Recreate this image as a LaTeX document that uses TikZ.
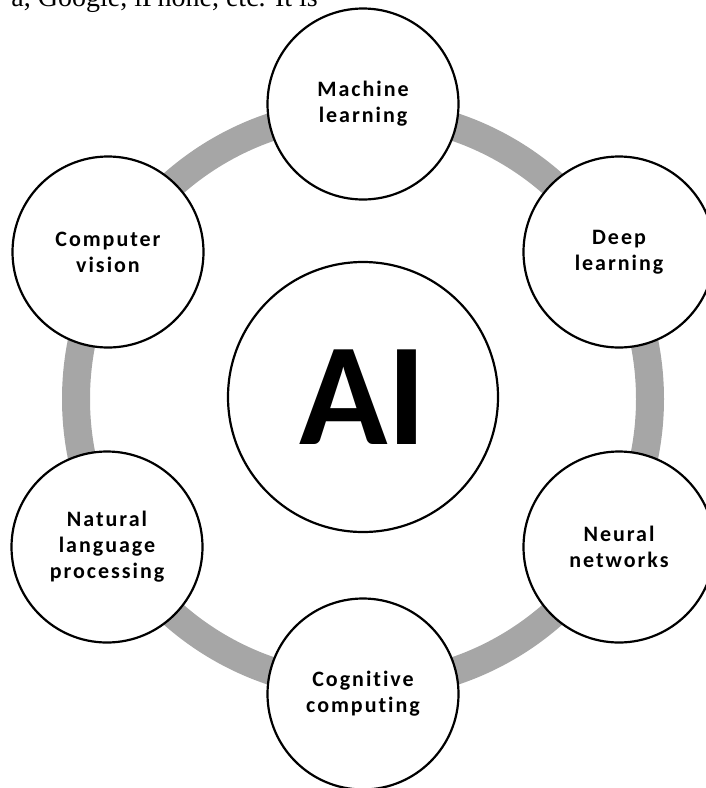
\documentclass[tikz,border=0pt]{standalone}
\usepackage{fontspec}
\setmainfont[Ligatures=NoCommon]{Carlito}
\newfontfamily\introfont{Liberation Serif}
\definecolor{ringgray}{HTML}{A6A6A6}

\begin{document}
\begin{tikzpicture}[x=1pt,y=-1pt,
        topic/.style={circle, draw=black, line width=2.2pt, fill=white,
            minimum size=191pt, inner sep=0pt, align=center,
            font=\bfseries\fontsize{22}{26}\selectfont\addfontfeature{LetterSpace=9}},
        hub/.style={topic, minimum size=270pt,
            font=\bfseries\fontsize{146}{146}\selectfont}
    ]
    \useasboundingbox (0,0) rectangle (706,788);
    % cut-off line of the text above
    \node[anchor=base east, inner sep=0pt, font=\introfont\fontsize{28}{32}\selectfont]
        (intro) at (318,6) {a, Google, iPhone, etc. It is};
    % ring behind the topics
    \draw[line width=28pt, ringgray] (363,399) circle (287pt);
    \node[hub] (ai) at (363,397) {AI};
    \foreach \name/\x/\y/\label in {ml/363/104/{Machine\\learning},
            dl/619/252/{Deep\\learning}, nn/619/547/{Neural\\networks},
            cc/363/694/{Cognitive\\computing},
            nlp/107/547/{Natural\\language\\processing},
            cv/108/252/{Computer\\vision}}
        \node[topic] (\name) at (\x,\y) {\label};
\end{tikzpicture}
\end{document}
